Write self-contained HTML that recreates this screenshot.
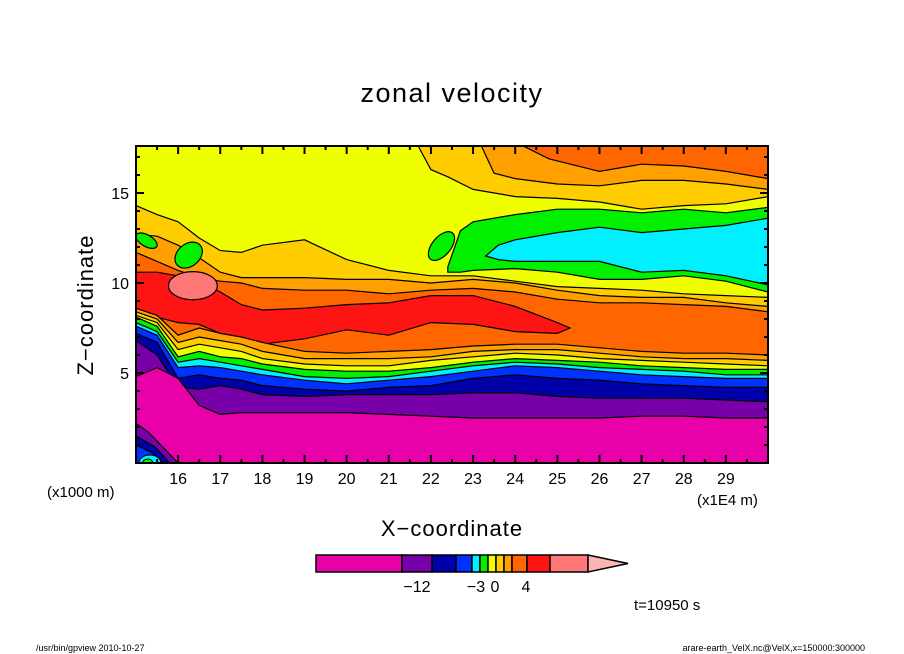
<!DOCTYPE html>
<html><head><meta charset="utf-8"><style>
html,body{margin:0;padding:0;background:#fff;}
svg{display:block;font-family:"Liberation Sans",sans-serif;}
</style></head><body>
<svg id="chart" width="904" height="654" viewBox="0 0 904 654" xmlns="http://www.w3.org/2000/svg">
<rect width="904" height="654" fill="#fff"/>
<text x="452" y="102" font-size="27" text-anchor="middle" letter-spacing="1.5">zonal velocity</text>
<g id="plot"></g>
<g id="axes"></g>
<text transform="translate(93,305) rotate(-90)" font-size="22" text-anchor="middle" letter-spacing="1">Z−coordinate</text>
<text x="452" y="536" font-size="22" text-anchor="middle" letter-spacing="1">X−coordinate</text>
<text x="47" y="497" font-size="15">(x1000 m)</text>
<text x="697" y="505" font-size="15">(x1E4 m)</text>
<g id="cbar"></g>
<text x="634" y="610" font-size="15">t=10950 s</text>
<text x="36" y="651" font-size="9">/usr/bin/gpview   2010-10-27</text>
<text x="865" y="651" font-size="9" text-anchor="end">arare-earth_VelX.nc@VelX,x=150000:300000</text>
</svg>
<script>
// ---- data (X in 1E4 m, Z in 1000 m) ----
const xs = [15,15.5,16,16.5,17,17.5,18,19,20,21,22,23,24,25,26,27,28,29,30];
const magentaTop = [4.8,5.3,4.7,3.2,2.7,2.8,2.8,2.8,2.8,2.7,2.6,2.5,2.5,2.5,2.5,2.6,2.6,2.5,2.5];
const purpleTop = [6.8,6.0,4.2,4.1,4.3,4.1,3.8,3.7,3.8,3.8,3.8,3.9,3.9,3.7,3.6,3.6,3.6,3.5,3.4];
const dblueTop = [7.2,6.7,4.7,4.9,4.7,4.6,4.3,4.1,4.0,4.2,4.3,4.7,4.9,4.7,4.6,4.4,4.3,4.2,4.2];
const blueTop = [7.6,7.1,5.3,5.4,5.3,5.1,4.9,4.6,4.4,4.6,4.8,5.1,5.4,5.3,5.1,4.9,4.8,4.7,4.7];
const cyanTop = [7.8,7.3,5.6,5.8,5.6,5.4,5.2,4.8,4.7,4.8,5.1,5.4,5.6,5.5,5.3,5.2,5.1,4.9,4.9];
const greenTop = [8.1,7.6,5.9,6.2,5.9,5.8,5.5,5.2,5.1,5.1,5.3,5.6,5.8,5.7,5.6,5.4,5.3,5.2,5.2];
const yellowTop = [8.2,7.8,6.3,6.6,6.4,6.2,5.8,5.5,5.4,5.4,5.7,5.9,6.1,6.0,5.8,5.7,5.6,5.5,5.4];
const goldTop = [8.4,8.0,6.7,7.0,6.8,6.6,6.2,5.8,5.8,5.8,5.9,6.2,6.3,6.3,6.1,5.9,5.8,5.8,5.7];
const orangeTop = [8.6,8.2,7.1,7.5,7.2,7.0,6.7,6.2,6.1,6.2,6.3,6.5,6.6,6.6,6.4,6.2,6.1,6.1,6.0];
const dorangeTop = [11.7,11.2,10.7,10.3,10.1,10.0,9.7,9.6,9.6,9.4,9.6,9.7,9.5,9.1,8.9,8.9,8.8,8.7,8.4];
const upOrangeTop = [12.7,12.6,12.1,11.4,10.6,10.3,10.3,10.3,10.2,10.2,10.0,10.2,10.0,9.6,9.3,9.2,9.2,8.9,8.7];
const upGoldTop = [14.3,13.8,13.4,12.5,11.8,11.7,12.1,12.4,11.3,10.7,10.4,10.4,10.1,9.8,9.7,9.6,9.4,9.3,9.2];
// red core
const redX = [15,15.5,16,16.5,17,17.5,18,19,20,21,22,23,24,25,25.3];
const redBottom = [8.6,8.1,7.8,7.7,7.2,6.8,6.6,6.9,7.4,7.1,7.8,7.7,7.3,7.2,7.5];
const redTop = [10.6,10.6,10.4,10.1,9.5,8.8,8.5,8.6,8.8,8.9,9.3,9.3,8.7,7.8,7.5];
// upper-right green / cyan
const greenX = [22.4,22.7,23,24,25,26,27,28,29,30];
const greenBottom = [10.6,10.6,10.7,10.8,10.6,10.2,10.2,10.4,10.1,9.5];
const greenTopR = [10.9,12.9,13.4,13.8,14.1,14.1,13.9,14.1,13.9,14.2];
const cyanX = [23.3,23.6,24,25,26,27,28,29,30];
const cyanBottom = [11.5,11.3,11.2,11.2,11.2,10.6,10.7,10.4,9.9];
const cyanTopR = [11.5,12.1,12.4,12.8,13.1,12.8,13.0,13.2,13.6];
// upper-right top bands
const ytX = [21.7,22,22.4,23,24,25,26,27,28,29,30];
const ytZ = [17.6,16.3,15.9,15.2,14.8,14.7,14.5,14.1,14.3,14.4,14.8];
const gtX = [23.2,23.5,24,25,26,27,28,29,30];
const gtZ = [17.6,16.1,15.8,15.5,15.4,15.7,15.7,15.5,15.2];
const otX = [24.2,24.8,26,27,28,29,30];
const otZ = [17.6,16.9,16.2,16.6,16.5,16.2,15.8];
// blobs: [X center, Z center, X radius, Z radius, rotation]
const salmonBlob = [16.35,9.85,0.58,0.78,0];
const greenBlobs = [[15.25,12.35,0.28,0.32,30],[16.25,11.55,0.36,0.62,-40],[22.25,12.05,0.22,0.95,40]];
// lower-left corner bands: left-edge Z, mid point, bottom X
const cornerLeftZ = [2.2,1.5,1.0];
const cornerMidX = [15.3,15.45,15.4];
const cornerMidZ = [1.7,0.9,0.55];
const cornerBottomX = [16.0,15.8,15.6];
const xTicks = [16,17,18,19,20,21,22,23,24,25,26,27,28,29];
const yTicks = [5,10,15];
const cbLabels = ["−12","−3","0","4"];

// ---- scales ----
const X0=136,X1=768,Y0=146,Y1=463,XMIN=15,XMAX=30,ZMAX=(Y1-Y0)/18;
function sx(x){return X0+(x-XMIN)*(X1-X0)/(XMAX-XMIN);}
function sz(z){return Y1-z*18;}
const NS="http://www.w3.org/2000/svg";
const plot=document.getElementById('plot');
const C={magenta:"#e800a8",purple:"#7800a8",dblue:"#0000a8",blue:"#0032ff",cyan:"#00f0ff",green:"#00f000",yellow:"#f0ff00",gold:"#ffcc00",orange:"#ffa000",dorange:"#ff6600",red:"#ff1414",salmon:"#ff7878",pink:"#ffb4b4"};
function mk(tag,attrs,parent){const e=document.createElementNS(NS,tag);for(const k in attrs)e.setAttribute(k,attrs[k]);(parent||plot).appendChild(e);return e;}
function pts(X,Z){return X.map((x,i)=>sx(x).toFixed(1)+","+sz(Z[i]).toFixed(1));}
function fillBelow(Z,color,name){
  const p=mk('polygon',{points:[sx(XMIN)+","+Y1].concat(pts(xs,Z)).concat([sx(XMAX)+","+Y1]).join(" "),fill:color});
  
  
  const l=mk('polyline',{points:pts(xs,Z).join(" "),fill:"none",stroke:"#000","stroke-width":1.2});
  
  
}
function fillAbove(X,Z,color,name){
  const p=mk('polygon',{points:pts(X,Z).concat([sx(XMAX)+","+Y0]).join(" "),fill:color});
  
  
  const l=mk('polyline',{points:pts(X,Z).join(" "),fill:"none",stroke:"#000","stroke-width":1.2});
  
  
}
function band(X,lo,hi,color,name){
  const p=mk('polygon',{points:pts(X,lo).concat(pts(X,hi).reverse()).join(" "),fill:color,stroke:"#000","stroke-width":1.2});
  
  
}
function blob(b,color,name){
  const e=mk('ellipse',{cx:sx(b[0]),cy:sz(b[1]),rx:b[2]*(X1-X0)/(XMAX-XMIN),ry:b[3]*18,fill:color,stroke:"#000","stroke-width":1.2,transform:`rotate(${b[4]} ${sx(b[0])} ${sz(b[1])})`});
  
  
}
const clip=mk('clipPath',{id:'pc'});mk('rect',{x:X0,y:Y0,width:X1-X0,height:Y1-Y0},clip);
plot.setAttribute('clip-path','url(#pc)');
const bg=mk('rect',{x:X0,y:Y0,width:X1-X0,height:Y1-Y0,fill:C.yellow});


// upper-right top bands
fillAbove(ytX,ytZ,C.gold,'upper-gold-band');
fillAbove(gtX,gtZ,C.orange,'upper-orange-band');
fillAbove(otX,otZ,C.dorange,'upper-darkorange-band');
// stacked lower bands
fillBelow(upGoldTop,C.gold,'gold-band-high');
fillBelow(upOrangeTop,C.orange,'orange-band-high');
fillBelow(dorangeTop,C.dorange,'darkorange-band');
band(redX,redBottom,redTop,C.red,'red-core');
fillBelow(orangeTop,C.orange,'orange-band');
fillBelow(goldTop,C.gold,'gold-band');
fillBelow(yellowTop,C.yellow,'yellow-band');
fillBelow(greenTop,C.green,'green-band');
fillBelow(cyanTop,C.cyan,'cyan-band');
fillBelow(blueTop,C.blue,'blue-band');
fillBelow(dblueTop,C.dblue,'darkblue-band');
fillBelow(purpleTop,C.purple,'purple-band');
fillBelow(magentaTop,C.magenta,'magenta-band');
// corner
const cornerColors=[C.purple,C.dblue,C.blue];
cornerLeftZ.forEach((z,i)=>{
  const p=mk('polygon',{points:[sx(XMIN)+","+Y1,sx(XMIN)+","+sz(z),sx(cornerMidX[i])+","+sz(cornerMidZ[i]),sx(cornerBottomX[i])+","+Y1].join(" "),fill:cornerColors[i],stroke:"#000","stroke-width":1.2});
  
  
});
const cc=mk('ellipse',{cx:sx(15.33),cy:Y1,rx:11,ry:8,fill:C.cyan,stroke:"#000","stroke-width":1});


const cg=mk('ellipse',{cx:sx(15.28),cy:Y1,rx:5,ry:4,fill:C.green,stroke:"#000","stroke-width":1});


// upper-right green/cyan
band(greenX,greenBottom,greenTopR,C.green,'upper-green-band');
band(cyanX,cyanBottom,cyanTopR,C.cyan,'upper-cyan-band');
// blobs
blob(salmonBlob,C.salmon,'salmon-max-blob');
greenBlobs.forEach(b=>blob(b,C.green,'green-blob'));

// ---- axes ----
const ax=document.getElementById('axes');
const fr=mk('rect',{x:X0,y:Y0,width:X1-X0,height:Y1-Y0,fill:"none",stroke:"#000","stroke-width":2},ax);


for(let x=15;x<=30;x+=0.5){
  const L=(x%1===0)?8:4;
  mk('line',{x1:sx(x),x2:sx(x),y1:Y1,y2:Y1-L,stroke:"#000","stroke-width":2},ax);
  mk('line',{x1:sx(x),x2:sx(x),y1:Y0,y2:Y0+L,stroke:"#000","stroke-width":2},ax);
}
for(let z=1;z<ZMAX;z++){
  const L=(z%5===0)?8:4;
  mk('line',{x1:X0,x2:X0+L,y1:sz(z),y2:sz(z),stroke:"#000","stroke-width":2},ax);
  mk('line',{x1:X1,x2:X1-L,y1:sz(z),y2:sz(z),stroke:"#000","stroke-width":2},ax);
}
xTicks.forEach(v=>{
  const t=mk('text',{x:sx(v),y:484,"font-size":16,"text-anchor":"middle"},ax);t.textContent=v;
  
  
});
yTicks.forEach(v=>{
  const t=mk('text',{x:129,y:sz(v)+6,"font-size":16,"text-anchor":"end"},ax);t.textContent=v;
  
  
});

// ---- colorbar ----
const cb=document.getElementById('cbar');
const cbEdges=[316,402,432,456,472,480,488,496,504,512,527,550,588];
const cbCols=[C.magenta,C.purple,C.dblue,C.blue,C.cyan,C.green,C.yellow,C.gold,C.orange,C.dorange,C.red,C.salmon];
cbCols.forEach((c,i)=>{
  const r=mk('rect',{x:cbEdges[i],y:555,width:cbEdges[i+1]-cbEdges[i],height:17,fill:c,stroke:"#000","stroke-width":1.5},cb);
  
  
});
const tri=mk('polygon',{points:"588,555 628,563.5 588,572",fill:C.pink,stroke:"#000","stroke-width":1.5},cb);


const cbPos=[417,476,495,526];
cbLabels.forEach((s,i)=>{
  const t=mk('text',{x:cbPos[i],y:592,"font-size":16,"text-anchor":"middle"},cb);t.textContent=s;
  
  
});
</script>
</body></html>
